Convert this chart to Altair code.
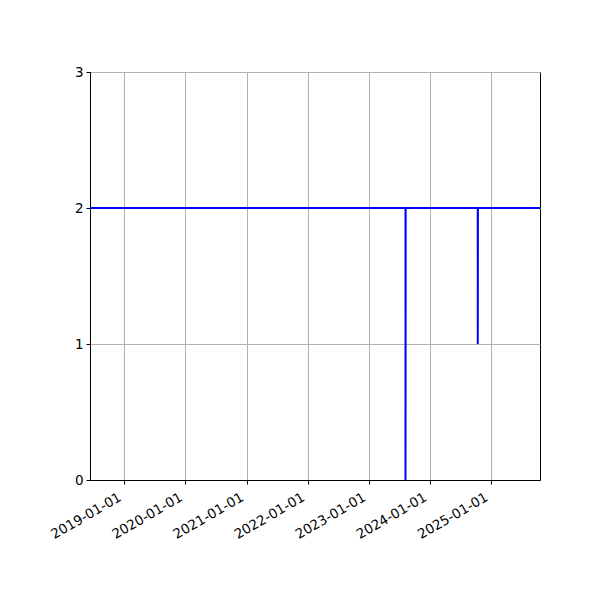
import altair as alt
import pandas as pd

dates = ["2018-06-10", "2023-08-09", "2023-08-09", "2023-08-10",
         "2024-10-14", "2024-10-14", "2024-10-15", "2025-10-21"]
values = [2, 2, 0, 2, 2, 1, 2, 2]
tick_years = [2019, 2020, 2021, 2022, 2023, 2024, 2025]
y_ticks = [0, 1, 2, 3]

df = pd.DataFrame({"date": dates, "value": values, "i": list(range(len(dates)))})

x_enc = alt.X(
    "date:T",
    scale=alt.Scale(type="utc", domain=[alt.DateTime(year=2018, month=6, date=10, utc=True),
                                        alt.DateTime(year=2025, month=10, date=21, utc=True)], nice=False),
    axis=alt.Axis(
        values=[alt.DateTime(year=y, month=1, date=1, utc=True) for y in tick_years],
        labelExpr="utcFormat(datum.value, '%Y-%m-%d')",
        labelAngle=330, labelAlign="right", labelBaseline="top",
        labelOverlap=False, labelOffset=-8, labelPadding=6,
        title=None, grid=True,
    ),
)
y_enc = alt.Y(
    "value:Q",
    scale=alt.Scale(domain=[0, 3], nice=False, zero=False),
    axis=alt.Axis(values=y_ticks, format="d", title=None, grid=True, labelPadding=3),
)

chart = alt.Chart(df).mark_line(color="#0000ff", strokeWidth=2, clip=True).encode(
    x=x_enc, y=y_enc, order="i:Q"
).properties(
    width=450, height=408,
    autosize=alt.AutoSizeParams(type="none"),
    padding={"left": 82, "top": 64, "right": 52, "bottom": 112},
).configure_view(
    stroke="black", strokeWidth=1
).configure_axis(
    domainColor="black", tickColor="black", tickSize=4, labelColor="black",
    labelFont="DejaVu Sans", labelFontSize=13.5, gridColor="#b0b0b0", gridWidth=1,
)

chart.save("out.html", embed_options={"renderer": "svg", "actions": False})
